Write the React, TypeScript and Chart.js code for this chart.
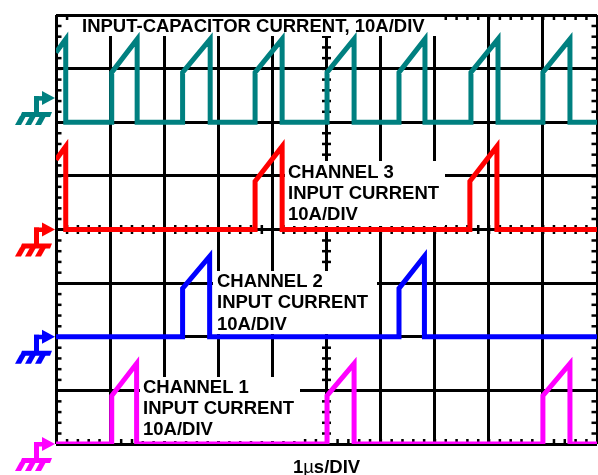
import React, { useEffect, useRef } from "react";
import { Chart, registerables } from "chart.js";

Chart.register(...registerables);

// ---- data (time in µs = divisions, amplitude in divisions of 10 A) ----
const capTimes = [0, 0.18, 0.18, 1.03, 1.03, 1.5, 1.5, 2.34, 2.34, 2.85, 2.85, 3.68, 3.68, 4.18, 4.18, 5.01, 5.01, 5.51, 5.51, 6.34, 6.34, 6.82, 6.82, 7.67, 7.67, 8.17, 8.17, 9.0, 9.0, 9.5, 9.5, 10];
const capValues = [7.3, 7.55, 6, 6, 6.93, 7.55, 6, 6, 6.93, 7.55, 6, 6, 6.93, 7.55, 6, 6, 6.93, 7.55, 6, 6, 6.93, 7.55, 6, 6, 6.93, 7.55, 6, 6, 6.93, 7.55, 6, 6];

const ch3Times = [0, 0.18, 0.18, 3.68, 3.68, 4.18, 4.18, 7.65, 7.65, 8.15, 8.15, 10];
const ch3Values = [5.3, 5.55, 4, 4, 4.9, 5.55, 4, 4, 4.9, 5.55, 4, 4];

const ch2Times = [0, 2.34, 2.34, 2.84, 2.84, 6.34, 6.34, 6.81, 6.81, 10];
const ch2Values = [2, 2, 2.9, 3.5, 2, 2, 2.9, 3.5, 2, 2];

const ch1Times = [0, 1.03, 1.03, 1.49, 1.49, 5.01, 5.01, 5.51, 5.51, 9.0, 9.0, 9.5, 9.5, 10];
const ch1Values = [0, 0, 0.9, 1.5, 0, 0, 0.9, 1.5, 0, 0, 0.9, 1.5, 0, 0];

// ground reference levels (divisions) for each trace
const groundLevels = [6.45, 4, 2, 0];

const xDivisions = 10;
const yDivisions = 8;
const minorStep = 0.2;

const TEAL = "#008080";
const RED = "#ff0000";
const BLUE = "#0000ff";
const MAGENTA = "#ff00ff";
const traceColors = [TEAL, RED, BLUE, MAGENTA];

const FONT = '"Liberation Sans", Arial, sans-serif';
const FONT_SIZE = 18.5;

const labelBoxes = [
  { box: [76, 17, 440, 36], x: 82, y: 32, lines: ["INPUT-CAPACITOR CURRENT, 10A/DIV"] },
  { box: [285, 161, 445, 226], x: 288, y: 177.5, lines: ["CHANNEL 3", "INPUT CURRENT", "10A/DIV"] },
  { box: [213, 271, 377, 334], x: 217, y: 287, lines: ["CHANNEL 2", "INPUT CURRENT", "10A/DIV"] },
  { box: [140, 377, 300, 441], x: 143, y: 392.5, lines: ["CHANNEL 1", "INPUT CURRENT", "10A/DIV"] },
];
const lineGap = 21.3;

function zip(xs: number[], ys: number[]) {
  return xs.map((x, i) => ({ x, y: ys[i] }));
}

function drawGround(ctx: CanvasRenderingContext2D, tx: number, ty: number, color: string) {
  ctx.save();
  ctx.fillStyle = color;
  // arrow head
  ctx.beginPath();
  ctx.moveTo(tx, ty);
  ctx.lineTo(tx - 13, ty - 7);
  ctx.lineTo(tx - 13, ty + 7);
  ctx.closePath();
  ctx.fill();
  // shaft
  ctx.fillRect(tx - 21, ty - 2, 9, 4.5);
  // stem
  ctx.fillRect(tx - 21, ty - 2, 5, 18);
  // bar (sheared)
  ctx.beginPath();
  ctx.moveTo(tx - 33, ty + 14);
  ctx.lineTo(tx - 3, ty + 14);
  ctx.lineTo(tx - 5, ty + 19);
  ctx.lineTo(tx - 35, ty + 19);
  ctx.closePath();
  ctx.fill();
  // legs
  for (const lx of [-35, -25, -15]) {
    ctx.beginPath();
    ctx.moveTo(tx + lx, ty + 18);
    ctx.lineTo(tx + lx + 6, ty + 18);
    ctx.lineTo(tx + lx + 1, ty + 27);
    ctx.lineTo(tx + lx - 5, ty + 27);
    ctx.closePath();
    ctx.fill();
  }
  ctx.restore();
}

const overlayPlugin = {
  id: "scopeOverlay",
  beforeDatasetsDraw(chart: any) {
    const { ctx, chartArea: a, scales } = chart;
    const xs = scales.x;
    const ys = scales.y;
    ctx.save();
    ctx.fillStyle = "#000";
    const cy = ys.getPixelForValue(yDivisions / 2);
    const cx = xs.getPixelForValue(xDivisions / 2);
    const nx = Math.round(xDivisions / minorStep);
    for (let i = 0; i <= nx; i++) {
      const px = xs.getPixelForValue(i * minorStep);
      ctx.fillRect(px - 1, a.top, 2.5, 5);
      ctx.fillRect(px - 1, a.bottom - 5, 2.5, 5);
      ctx.fillRect(px - 1, cy - 4.5, 2.5, 9);
    }
    const ny = Math.round(yDivisions / minorStep);
    for (let i = 0; i <= ny; i++) {
      const py = ys.getPixelForValue(i * minorStep);
      ctx.fillRect(a.left, py - 1, 5.5, 2.5);
      ctx.fillRect(a.right - 5.5, py - 1, 5.5, 2.5);
      ctx.fillRect(cx - 4.5, py - 1, 9, 2.5);
    }
    for (const lb of labelBoxes) {
      const [l, t, r, b] = lb.box;
      ctx.fillStyle = "#fff";
      ctx.fillRect(l, t, r - l, b - t);
      ctx.fillStyle = "#000";
      ctx.font = `bold ${FONT_SIZE}px ${FONT}`;
      ctx.textAlign = "left";
      ctx.textBaseline = "alphabetic";
      lb.lines.forEach((s, i) => ctx.fillText(s, lb.x, lb.y + i * lineGap));
    }
    const parts = [
      { s: "1", f: `bold ${FONT_SIZE}px ${FONT}` },
      { s: "\u00b5", f: `${FONT_SIZE}px ${FONT}` },
      { s: "s/DIV", f: `bold ${FONT_SIZE}px ${FONT}` },
    ];
    let total = 0;
    for (const p of parts) {
      ctx.font = p.f;
      total += ctx.measureText(p.s).width;
    }
    let px = cx - total / 2;
    for (const p of parts) {
      ctx.font = p.f;
      ctx.fillText(p.s, px, 473);
      px += ctx.measureText(p.s).width;
    }
    ctx.restore();
  },
  afterDraw(chart: any) {
    const { ctx, chartArea: a, scales } = chart;
    groundLevels.forEach((lv, i) => {
      drawGround(ctx, a.left - 1, scales.y.getPixelForValue(lv), traceColors[i]);
    });
  },
};

export default function App() {
  const ref = useRef<HTMLCanvasElement | null>(null);
  useEffect(() => {
    if (!ref.current) return;
    const mk = (label: string, xs: number[], ysv: number[], color: string) => ({
      label,
      data: zip(xs, ysv),
      borderColor: color,
      backgroundColor: color,
      borderWidth: 5,
      pointRadius: 0,
      tension: 0,
      fill: false,
      borderJoinStyle: "miter" as const,
      borderCapStyle: "butt" as const,
    });
    const chart = new Chart(ref.current, {
      type: "line",
      data: {
        datasets: [
          mk("Input-capacitor current", capTimes, capValues, TEAL),
          mk("Channel 3 input current", ch3Times, ch3Values, RED),
          mk("Channel 2 input current", ch2Times, ch2Values, BLUE),
          mk("Channel 1 input current", ch1Times, ch1Values, MAGENTA),
        ],
      },
      options: {
        responsive: false,
        animation: false,
        devicePixelRatio: 1,
        layout: { padding: { left: 56, right: 1, top: 15, bottom: 31 } },
        plugins: { legend: { display: false }, tooltip: { enabled: false } },
        scales: {
          x: {
            type: "linear",
            min: 0,
            max: xDivisions,
            ticks: { display: false, stepSize: 1 },
            grid: { color: "#000", lineWidth: 3, drawTicks: false },
            border: { display: false },
          },
          y: {
            type: "linear",
            min: 0,
            max: yDivisions,
            ticks: { display: false, stepSize: 1 },
            grid: { color: "#000", lineWidth: 3, drawTicks: false },
            border: { display: false },
          },
        },
      },
      plugins: [overlayPlugin],
    });
    return () => chart.destroy();
  }, []);
  return (
    <div style={{ position: "absolute", left: 0, top: 0, width: 598, height: 475, background: "#fff" }}>
      <canvas ref={ref} width={598} height={475} style={{ width: 598, height: 475, display: "block" }} />
    </div>
  );
}
